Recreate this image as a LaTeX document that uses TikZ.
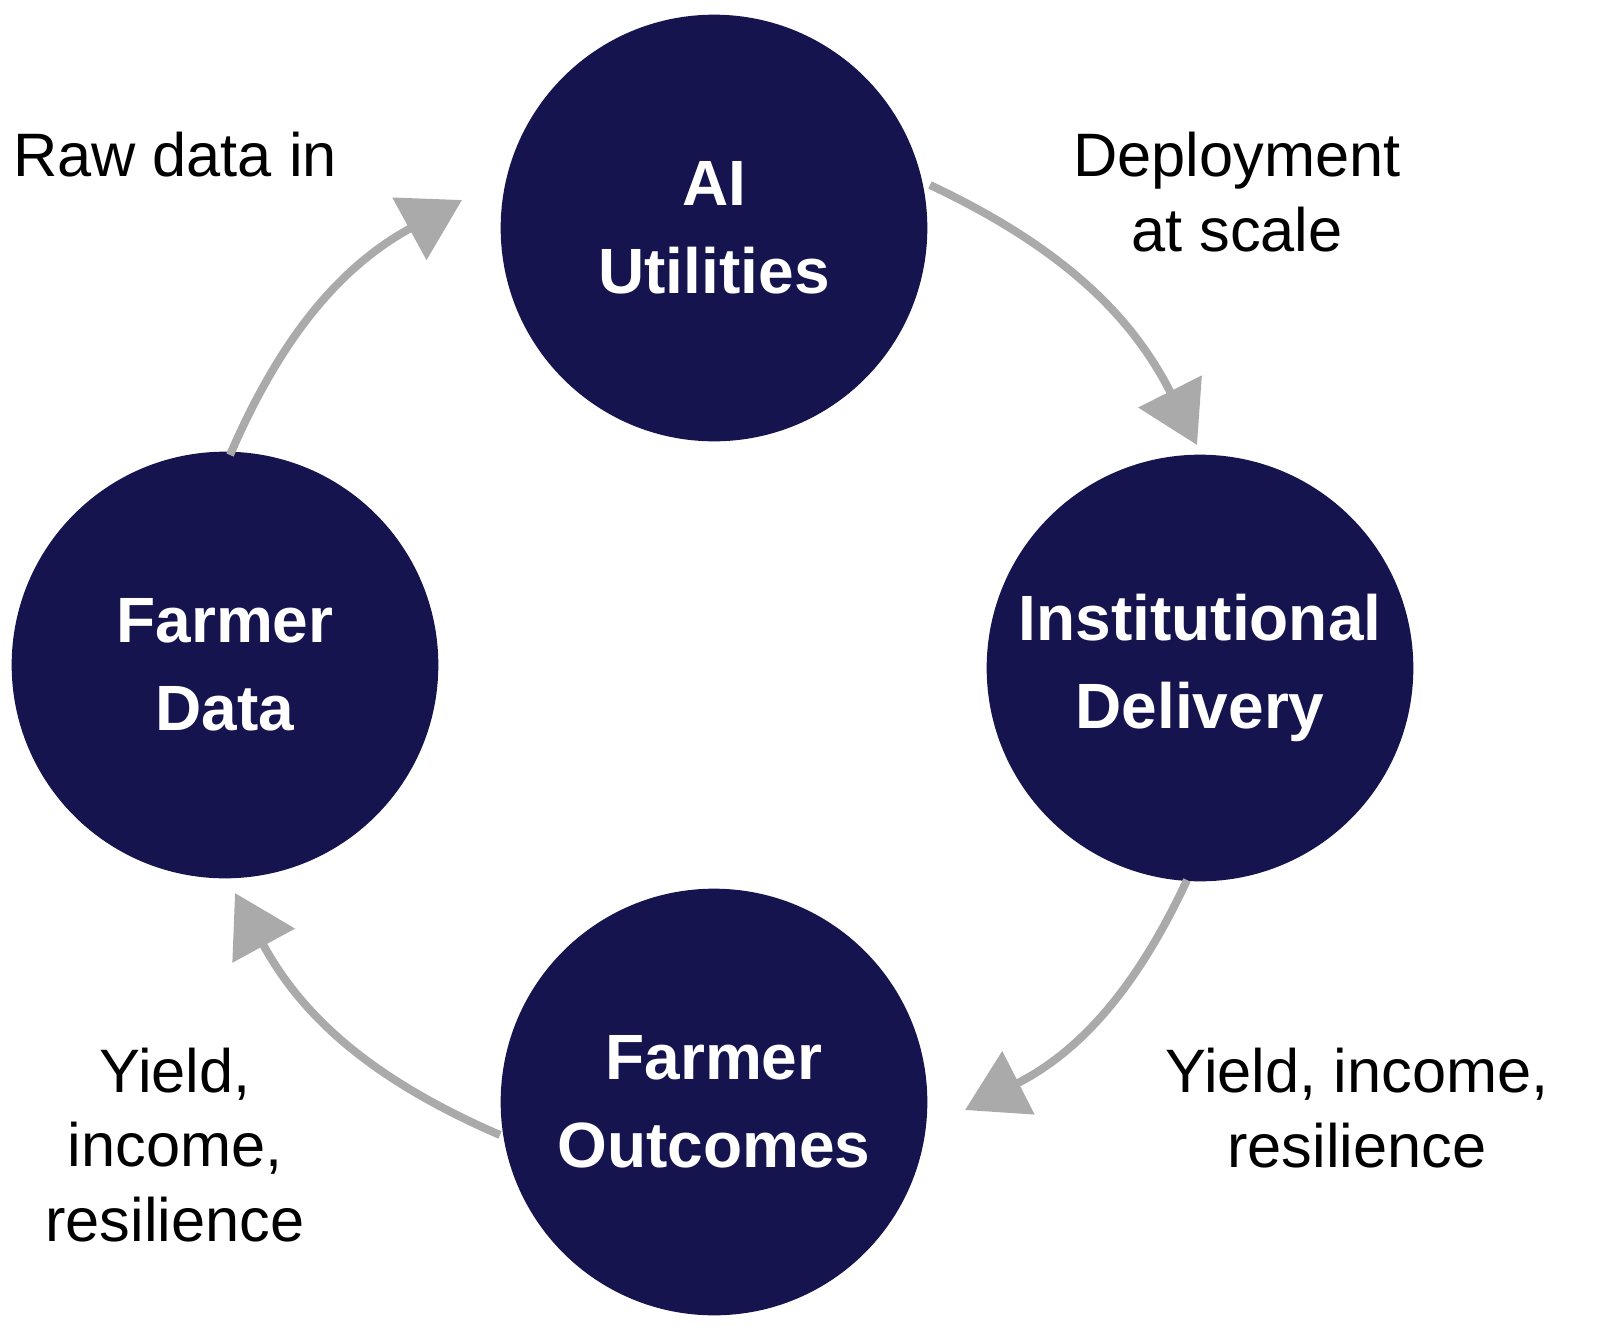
\documentclass[tikz,border=0pt]{standalone}
\usepackage{fontspec}
\setmainfont{Liberation Sans}
\usetikzlibrary{arrows.meta}
\definecolor{navy}{HTML}{15144F}
\definecolor{arrgray}{HTML}{AAAAAA}
\begin{document}
\begin{tikzpicture}[x=0.75pt,y=-0.75pt,
  hub/.style={circle,fill=navy,minimum size=320pt,inner sep=0pt,text=white,font=\fontsize{48}{66}\selectfont\bfseries,align=center},
  lbl/.style={font=\fontsize{46}{56}\selectfont,align=center,text=black},
  flow/.style={draw=arrgray,line width=6pt,-{Triangle[length=45pt,width=52pt]}}]
\useasboundingbox (0,0) rectangle (1600,1343);
\node[hub] (ai) at (714,228) {AI\\Utilities};
\node[hub] (inst) at (1200,668) {Institutional\\Delivery};
\node[hub] (fd) at (225,665) {Farmer\\Data};
\node[hub] (fo) at (714,1102) {Farmer\\Outcomes};
\coordinate (a1s) at (230,455); \coordinate (a1e) at (462,200);
\coordinate (a2s) at (930,185); \coordinate (a2e) at (1197,445);
\coordinate (a3s) at (1187,880); \coordinate (a3e) at (965,1110);
\coordinate (a4s) at (500,1135); \coordinate (a4e) at (235,893);
\draw[flow] (a1s) to[bend left=19] (a1e);
\draw[flow] (a2s) to[bend left=19] (a2e);
\draw[flow] (a3s) to[bend left=19] (a3e);
\draw[flow] (a4s) to[bend left=19] (a4e);
\node[lbl] (l1) at (175,155) {Raw data in};
\node[lbl] (l2) at (1237,192) {Deployment\\at scale};
\node[lbl] (l3) at (1357,1108) {Yield, income,\\resilience};
\node[lbl] (l4) at (175,1145) {Yield,\\income,\\resilience};
\end{tikzpicture}
\end{document}
